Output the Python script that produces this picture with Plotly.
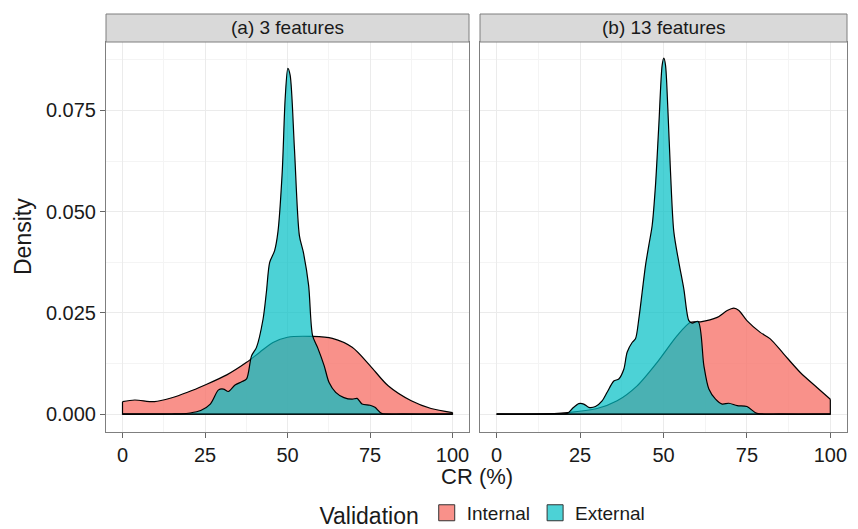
import plotly.graph_objects as go

# ---------------- data ----------------
panel_titles = ["(a) 3 features", "(b) 13 features"]
series_names = ["Internal", "External"]

a_internal_x = [0, 3.7, 9.7, 14.7, 19.7, 25, 31.6, 37.6, 41.6, 45.6, 50, 57.6, 63.6, 69.6, 75, 80.5, 87.5, 93.5, 100]
a_internal_y = [0.0031, 0.0035, 0.0031, 0.0040, 0.0054, 0.0072, 0.0097, 0.0128, 0.0153, 0.0177, 0.0190, 0.0192,
                0.0187, 0.0165, 0.0120, 0.0070, 0.0033, 0.0014, 0.0004]

a_external_x = [0, 10, 15, 17.7, 20.5, 23.7, 26.6, 29.1, 30.6, 32.1, 34.1, 36.1, 37.6, 39.1, 40.6, 42.6, 43.6,
                44.6, 46.1, 47.1, 48.4, 49.3, 50.1, 50.8, 52.1, 53.6, 54.8, 56.4, 57.6, 59.1, 61.1, 62.6,
                64.6, 67.1, 69.6, 71.1, 72.6, 75.0, 76.5, 78.5, 85, 100]
a_external_y = [0, 0, 0.00005, 0.0001, 0.0003, 0.0009, 0.0025, 0.0060, 0.0062, 0.0056, 0.0072, 0.0080, 0.0087,
                0.0144, 0.0165, 0.0235, 0.0301, 0.0375, 0.0404, 0.0450, 0.0598, 0.0780, 0.0854, 0.0837,
                0.0656, 0.0441, 0.0400, 0.0318, 0.0194, 0.0165, 0.0120, 0.0078, 0.0054, 0.0041, 0.0037,
                0.0039, 0.0025, 0.0022, 0.0017, 0.0002, 0, 0]

b_internal_x = [0, 12, 21.2, 30.1, 36.1, 42.1, 48.1, 54.1, 58.1, 61.1, 66.1, 69.1, 71.1, 72.6, 75.0, 79.0,
                82.0, 86.0, 91.0, 96.0, 100]
b_internal_y = [0, 0.00002, 0.0004, 0.0014, 0.0033, 0.0070, 0.0128, 0.0194, 0.0227, 0.0228, 0.0239, 0.0256,
                0.0262, 0.0256, 0.0231, 0.0202, 0.0186, 0.0149, 0.0103, 0.0066, 0.0037]

b_external_x = [0, 12, 18, 21.2, 22.7, 24.6, 26.1, 27.6, 29.6, 31.6, 33.1, 35.1, 36.6, 38.1, 39.1, 40.6, 41.6,
                42.6, 43.6, 44.6, 45.6, 46.6, 47.6, 48.6, 49.6, 50.1, 50.6, 51.3, 52.1, 53.1, 54.6, 56.1,
                57.6, 58.6, 60.4, 62.1, 63.6, 65.6, 67.6, 69.6, 72.1, 75.0, 78.0, 85, 100]
b_external_y = [0, 0, 0.00005, 0.0002, 0.0014, 0.0026, 0.0025, 0.0017, 0.0019, 0.0033, 0.0054, 0.0082,
                0.0087, 0.0111, 0.0153, 0.0177, 0.0186, 0.0235, 0.0301, 0.0367, 0.0417, 0.0466, 0.0565,
                0.0714, 0.0862, 0.0879, 0.0862, 0.0755, 0.0598, 0.0450, 0.0375, 0.0309, 0.0231, 0.0225,
                0.0229, 0.0120, 0.0062, 0.0037, 0.0025, 0.0027, 0.0021, 0.0019, 0.0002, 0, 0]

x_ticks = [0, 25, 50, 75, 100]
x_minor = [12.5, 37.5, 62.5, 87.5]
y_ticks = [0, 0.025, 0.05, 0.075]
y_ticktext = ["0.000", "0.025", "0.050", "0.075"]
y_minor = [0.0125, 0.0375, 0.0625, 0.0875]

# ---------------- styling ----------------
FONT = "Liberation Sans, Arial, Helvetica, sans-serif"
fills = {"Internal": "rgba(248,118,109,0.8)", "External": "rgba(0,191,196,0.7)"}
border = "#7f7f7f"

panels = [
    ("x", "y", [("Internal", a_internal_x, a_internal_y), ("External", a_external_x, a_external_y)]),
    ("x2", "y2", [("Internal", b_internal_x, b_internal_y), ("External", b_external_x, b_external_y)]),
]

fig = go.Figure()
for xa, ya, series in panels:
    for name, xs, ys in series:
        # filled density curve
        fig.add_trace(go.Scatter(
            x=xs, y=ys, xaxis=xa, yaxis=ya, mode="lines", fill="tozeroy",
            fillcolor=fills[name], line=dict(color="black", width=1.2, shape="spline", smoothing=0.8),
            showlegend=False, hoverinfo="skip"))
        # polygon edges: vertical ends and baseline
        fig.add_trace(go.Scatter(
            x=[xs[0], xs[0], xs[-1], xs[-1]], y=[ys[0], 0, 0, ys[-1]], xaxis=xa, yaxis=ya,
            mode="lines", line=dict(color="black", width=1.2), showlegend=False, hoverinfo="skip"))

for name in series_names:
    fig.add_trace(go.Scatter(
        x=[None], y=[None], mode="markers", name=name,
        marker=dict(symbol="square", size=18, color=fills[name], line=dict(color="#333", width=1))))

d1 = 363 / 741
d2 = 374 / 741
axis_common = dict(
    showline=True, mirror=True, linecolor=border, linewidth=1,
    showgrid=True, gridcolor="#EBEBEB", gridwidth=1.1,
    ticks="outside", ticklen=5, tickwidth=1, tickcolor="#666",
    tickfont=dict(size=20, color="#1a1a1a", family=FONT), zeroline=False, automargin=False,
)
xcommon = dict(axis_common, range=[-5, 105], tickmode="array", tickvals=x_ticks,
               minor=dict(tickmode="array", tickvals=x_minor, showgrid=True, gridcolor="#F4F4F4",
                          gridwidth=0.6, ticks=""))
ycommon = dict(axis_common, range=[-0.0044, 0.0919], tickmode="array", tickvals=y_ticks,
               ticktext=y_ticktext,
               minor=dict(tickmode="array", tickvals=y_minor, showgrid=True, gridcolor="#F4F4F4",
                          gridwidth=0.6, ticks=""))

# page body has an 8px margin, so the figure is sized/offset to compensate
fig.update_layout(
    width=850, height=521,
    margin=dict(l=98, r=11, t=34, b=97, autoexpand=False),
    paper_bgcolor="white", plot_bgcolor="white",
    font=dict(family=FONT, color="#1a1a1a"),
    xaxis=dict(xcommon, domain=[0, d1], anchor="y"),
    xaxis2=dict(xcommon, domain=[d2, 1], anchor="y2"),
    yaxis=dict(ycommon, domain=[0, 1], anchor="x"),
    yaxis2=dict(ycommon, domain=[0, 1], anchor="x2", matches="y", showticklabels=False, ticks=""),
    legend=dict(orientation="h", x=0.51, xanchor="center", y=-0.21, yanchor="middle",
                title=dict(text="Validation", side="left", font=dict(size=23, family=FONT)),
                font=dict(size=19, family=FONT), itemwidth=30, tracegroupgap=0,
                bgcolor="rgba(0,0,0,0)"),
)

strip_h = 28 / 390
for i, (xa, ya) in enumerate([("x", "y"), ("x2", "y2")]):
    fig.add_shape(type="rect", xref=f"{xa} domain", yref=f"{ya} domain",
                  x0=0, x1=1, y0=1, y1=1 + strip_h,
                  fillcolor="#D9D9D9", line=dict(color=border, width=1), layer="above")
    fig.add_annotation(text=panel_titles[i], xref=f"{xa} domain", yref=f"{ya} domain",
                       x=0.5, y=1 + strip_h / 2, showarrow=False, xanchor="center", yanchor="middle",
                       font=dict(size=19, color="#1a1a1a", family=FONT))

fig.add_annotation(text="CR (%)", xref="paper", yref="paper", x=0.5, y=-0.113,
                   showarrow=False, xanchor="center", yanchor="middle",
                   font=dict(size=22, family=FONT, color="#1a1a1a"))
fig.add_annotation(text="Density", xref="paper", yref="paper", x=(23 - 106) / 741, y=0.5,
                   textangle=-90, showarrow=False, xanchor="center", yanchor="middle",
                   font=dict(size=23, family=FONT, color="#1a1a1a"))

fig.write_html("out.html")
